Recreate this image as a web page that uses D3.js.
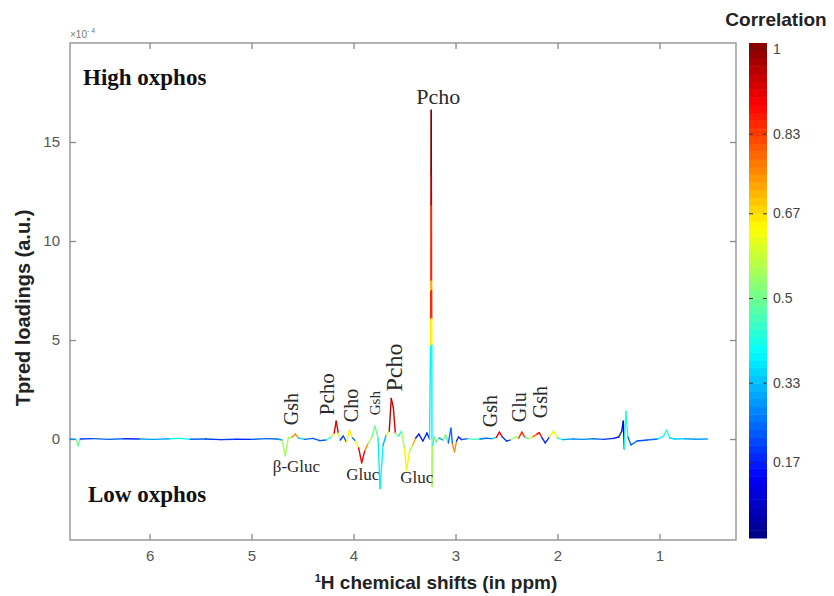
<!DOCTYPE html>
<html>
<head>
<meta charset="utf-8">
<style>
  body { margin: 0; background: #fff; }
  svg { display: block; }
</style>
</head>
<body>
<div id="chart"></div>
<script src="https://cdn.jsdelivr.net/npm/d3@7/dist/d3.min.js"></script>
<script>
// spectrum: chemical shift (ppm), loading (x1e-4), correlation
var ppm = [6.78, 6.72, 6.70, 6.68, 6.55, 6.40, 6.25, 6.10, 5.95, 5.80, 5.70, 5.60, 5.45, 5.30, 5.15, 5.00, 4.85, 4.75,
    4.70, 4.67, 4.64, 4.60, 4.57, 4.54, 4.48, 4.40, 4.33, 4.27, 4.22, 4.19, 4.17, 4.15, 4.13, 4.10, 4.07, 4.04, 4.01,
    3.98, 3.95, 3.92, 3.89, 3.86, 3.82, 3.79, 3.76, 3.74, 3.71, 3.68, 3.65, 3.63, 3.61, 3.59, 3.56, 3.53, 3.50, 3.48,
    3.45, 3.42, 3.39, 3.36, 3.32, 3.28, 3.255,
    3.245, 3.244, 3.243, 3.242, 3.241, 3.240, 3.238, 3.237, 3.236, 3.235, 3.234, 3.233, 3.232, 3.231, 3.230,
    3.225, 3.21, 3.19, 3.16, 3.12, 3.10, 3.07, 3.045, 3.03, 3.01, 2.99, 2.97, 2.94, 2.88, 2.82, 2.76, 2.70, 2.64,
    2.60, 2.57, 2.54, 2.50, 2.46, 2.41, 2.38, 2.35, 2.32, 2.28, 2.24, 2.20, 2.18, 2.15, 2.12, 2.08, 2.04, 2.00, 1.95,
    1.85, 1.75, 1.65, 1.55, 1.45, 1.40, 1.37, 1.355, 1.345, 1.33, 1.31, 1.28, 1.22, 1.12, 1.02, 0.96, 0.93, 0.90,
    0.85, 0.75, 0.65, 0.53];
var loading = [0.00, -0.02, -0.35, 0.00, 0.02, -0.02, 0.01, 0.00, -0.02, 0.01, 0.03, -0.01, 0.00, -0.03, -0.01, -0.02, 0.02, 0.00,
    -0.05, -0.85, 0.05, 0.10, 0.25, 0.05, -0.02, 0.03, -0.08, -0.05, 0.10, 0.30, 0.90, 0.30, -0.05, 0.15, -0.15, 0.45, 0.05,
    -0.10, -0.45, -1.20, -0.60, -0.25, 0.10, 0.65, 0.05, -2.50, -0.30, 0.20, 0.40, 2.05, 1.60, 0.30, 0.15, 0.40, -0.50, -1.60,
    -0.60, -0.30, 0.05, 0.25, -0.10, 0.30, 0.00,
    4.75, 6.10, 7.50, 8.00, 11.80, 13.35, 16.60, 13.35, 11.80, 8.00, 7.50, 6.10, 4.75, 0.00, -2.40,
    -0.30, 0.10, -0.15, 0.05, -0.05, 0.20, -0.20, 0.55, -0.25, -0.65, -0.10, 0.10, -0.03, 0.02, -0.02, 0.00, 0.04, 0.02,
    0.08, 0.35, 0.10, -0.10, -0.05, 0.12, 0.05, 0.35, 0.08, 0.02, 0.12, 0.25, 0.32, 0.05, -0.20, 0.10, 0.40, 0.05, -0.03,
    0.00, -0.02, 0.01, -0.02, 0.03, 0.10, 0.40, 0.90, -0.50, 1.40, 0.10, -0.30, -0.10, -0.05, 0.00, 0.15, 0.45, 0.05,
    0.00, 0.01, -0.01, 0.00];
var corr = [0.24, 0.28, 0.50, 0.28, 0.20, 0.24, 0.18, 0.22, 0.30, 0.20, 0.40, 0.24, 0.18, 0.20, 0.22, 0.18, 0.24, 0.20,
    0.28, 0.55, 0.40, 0.55, 0.75, 0.35, 0.20, 0.24, 0.22, 0.30, 0.42, 0.60, 0.92, 0.60, 0.25, 0.18, 0.22, 0.65, 0.30,
    0.25, 0.62, 0.90, 0.75, 0.55, 0.30, 0.50, 0.25, 0.38, 0.32, 0.18, 0.60, 0.95, 0.92, 0.55, 0.18, 0.42, 0.55, 0.65,
    0.55, 0.72, 0.25, 0.16, 0.38, 0.18, 0.30,
    0.38, 0.65, 0.85, 0.72, 0.85, 0.95, 1.00, 0.95, 0.85, 0.72, 0.85, 0.65, 0.38, 0.35, 0.55,
    0.40, 0.25, 0.50, 0.20, 0.30, 0.55, 0.45, 0.25, 0.32, 0.75, 0.35, 0.18, 0.22, 0.30, 0.45, 0.20, 0.25, 0.18,
    0.35, 0.90, 0.55, 0.20, 0.18, 0.55, 0.35, 0.85, 0.45, 0.30, 0.60, 0.80, 0.88, 0.35, 0.18, 0.50, 0.62, 0.42, 0.30,
    0.22, 0.28, 0.20, 0.25, 0.18, 0.16, 0.18, 0.14, 0.12, 0.42, 0.32, 0.25, 0.22, 0.25, 0.28, 0.38, 0.42, 0.35,
    0.30, 0.35, 0.30, 0.33];

var xTicks = [6, 5, 4, 3, 2, 1];
var yTicks = [0, 5, 10, 15];
var cbTicks = [1, 0.83, 0.67, 0.5, 0.33, 0.17];

// metabolite labels (text, ppm, loading, rotated?)
var annoText = ["Pcho", "Gsh", "Pcho", "Cho", "Gsh", "Pcho", "Gsh", "Glu", "Gsh", "β-Gluc", "Gluc", "Gluc"];
var annoPpm = [3.17, 4.54, 4.19, 3.96, 3.74, 3.52, 2.59, 2.31, 2.10, 4.56, 3.91, 3.38];
var annoVal = [16.9, 0.7, 1.2, 0.85, 1.2, 2.4, 0.6, 0.85, 1.05, -1.66, -2.08, -2.2];
var annoRot = [false, true, true, true, true, true, true, true, true, false, false, false];
var annoSize = [22, 20, 21, 20, 15, 24, 20, 20, 20, 17, 17, 17];

var W = 834, H = 596;
var margin = {left: 70, right: 98, top: 43, bottom: 56};

var svg = d3.select("#chart").append("svg")
    .attr("width", W).attr("height", H);

var x = d3.scaleLinear().domain([6.78, 0.25]).range([margin.left, W - margin.right]);
var y = d3.scaleLinear().domain([-5.1, 20]).range([H - margin.bottom, margin.top]);

// jet colormap as in matlab
var jet = d3.scaleLinear()
    .domain([0, 0.125, 0.375, 0.625, 0.875, 1])
    .range(["#000080", "#0000ff", "#00ffff", "#ffff00", "#ff0000", "#800000"])
    .clamp(true);
var cLo = 0.018, cHi = 1.012;
function colorOf(c) { return jet((c - cLo) / (cHi - cLo)); }

// axes box
var grey = "#9a9a9a";
svg.append("rect")
    .attr("x", margin.left).attr("y", margin.top)
    .attr("width", x.range()[1] - margin.left)
    .attr("height", y.range()[0] - margin.top)
    .attr("fill", "none").attr("stroke", grey).attr("stroke-width", 1.5);

var xb = svg.append("g").attr("transform", "translate(0," + y.range()[0] + ")")
    .call(d3.axisBottom(x).tickValues(xTicks).tickSizeInner(-6).tickSizeOuter(0).tickPadding(10)
        .tickFormat(d3.format("d")));
var xt = svg.append("g").attr("transform", "translate(0," + margin.top + ")")
    .call(d3.axisTop(x).tickValues(xTicks).tickSizeInner(-6).tickSizeOuter(0).tickFormat(""));
var yl = svg.append("g").attr("transform", "translate(" + margin.left + ",0)")
    .call(d3.axisLeft(y).tickValues(yTicks).tickSizeInner(-6).tickSizeOuter(0).tickPadding(10));
var yr = svg.append("g").attr("transform", "translate(" + x.range()[1] + ",0)")
    .call(d3.axisRight(y).tickValues(yTicks).tickSizeInner(-6).tickSizeOuter(0).tickFormat(""));

[xb, xt, yl, yr].forEach(function(g) {
    g.select(".domain").remove();
    g.selectAll(".tick line").attr("stroke", "#8a8a8a").attr("stroke-width", 1.3);
    g.selectAll(".tick text").attr("fill", "#555")
        .style("font-family", "Liberation Sans, Arial, sans-serif").style("font-size", "15px");
});

svg.append("text")
    .attr("x", margin.left).attr("y", margin.top - 5)
    .attr("fill", "#777")
    .style("font-family", "Liberation Sans, Arial, sans-serif").style("font-size", "10px")
    .html("×10<tspan dy='-5' font-size='7px'>- 4</tspan>");

// spectrum as coloured segments
var pts = ppm.map(function(p, i) { return {p: p, v: loading[i], c: corr[i]}; });
var segs = d3.pairs(pts);
svg.append("g").attr("class", "spectrum")
    .selectAll("line")
    .data(segs)
    .enter().append("line")
    .attr("x1", function(d) { return x(d[0].p); })
    .attr("y1", function(d) { return y(d[0].v); })
    .attr("x2", function(d) { return x(d[1].p); })
    .attr("y2", function(d) { return y(d[1].v); })
    .attr("stroke", function(d) {
        var big = Math.abs(d[0].v) > Math.abs(d[1].v) ? d[0] : d[1];
        return colorOf(big.c);
    })
    .attr("stroke-width", 1.4)
    .attr("stroke-linecap", "round");

// metabolite labels
var serif = "Liberation Serif, Times New Roman, serif";
svg.append("g").selectAll("text")
    .data(annoText)
    .enter().append("text")
    .attr("transform", function(d, i) {
        var t = "translate(" + x(annoPpm[i]) + "," + y(annoVal[i]) + ")";
        return annoRot[i] ? t + " rotate(-90)" : t;
    })
    .attr("text-anchor", function(d, i) { return annoRot[i] ? "start" : "middle"; })
    .attr("fill", "#2a2a2a")
    .style("font-family", serif)
    .style("font-size", function(d, i) { return annoSize[i] + "px"; })
    .text(function(d) { return d; });

svg.append("text")
    .attr("x", 83).attr("y", 85)
    .attr("fill", "#111")
    .style("font-family", serif).style("font-weight", "bold").style("font-size", "23px")
    .text("High oxphos");
svg.append("text")
    .attr("x", 88).attr("y", 502)
    .attr("fill", "#111")
    .style("font-family", serif).style("font-weight", "bold").style("font-size", "23px")
    .text("Low oxphos");

// axis titles
var sans = "Liberation Sans, Arial, sans-serif";
svg.append("text")
    .attr("x", 436).attr("y", 589)
    .attr("text-anchor", "middle").attr("fill", "#222")
    .style("font-family", sans).style("font-weight", "bold").style("font-size", "19px")
    .html("<tspan dy='-7' font-size='11px'>1</tspan><tspan dy='7'>H chemical shifts (in ppm)</tspan>");
svg.append("text")
    .attr("transform", "translate(30,308) rotate(-90)")
    .attr("text-anchor", "middle").attr("fill", "#222")
    .style("font-family", sans).style("font-weight", "bold").style("font-size", "20px")
    .text("Tpred loadings (a.u.)");

// colour bar
var cb = {x: 749, w: 18};
var cy = d3.scaleLinear().domain([cLo, cHi]).range([y.range()[0] - 2, margin.top]);
var steps = d3.range(64);
svg.append("g").selectAll("rect")
    .data(steps)
    .enter().append("rect")
    .attr("x", cb.x)
    .attr("width", cb.w)
    .attr("y", function(i) { return cy(cLo + (i + 1) * (cHi - cLo) / 64); })
    .attr("height", function(i) { return cy(cLo + i * (cHi - cLo) / 64) - cy(cLo + (i + 1) * (cHi - cLo) / 64) + 0.5; })
    .attr("fill", function(i) { return jet((i + 0.5) / 64); });

var cbAxis = svg.append("g").attr("transform", "translate(" + (cb.x + cb.w) + ",0)")
    .call(d3.axisRight(cy).tickValues(cbTicks).tickSizeInner(-4).tickSizeOuter(0).tickPadding(6)
        .tickFormat(function(d) { return d === 1 ? "1" : d3.format(".2~f")(d); }));
cbAxis.select(".domain").remove();
cbAxis.selectAll(".tick line").attr("stroke", "#333").attr("stroke-width", 1);
cbAxis.selectAll(".tick text").attr("fill", "#444")
    .style("font-family", sans).style("font-size", "14px");
cbAxis.selectAll(".tick").append("line")
    .attr("x1", -cb.w).attr("x2", -cb.w + 4)
    .attr("stroke", "#333").attr("stroke-width", 1);

svg.append("text")
    .attr("x", 776).attr("y", 26)
    .attr("text-anchor", "middle").attr("fill", "#222")
    .style("font-family", sans).style("font-weight", "bold").style("font-size", "19px")
    .text("Correlation");
</script>
</body>
</html>
